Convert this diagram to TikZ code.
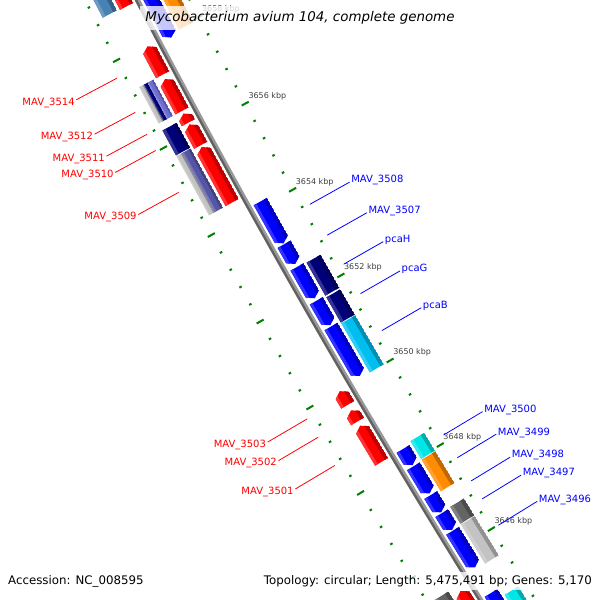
\documentclass[tikz,border=0pt]{standalone}
\usepackage{fontspec}
\setmainfont{DejaVu Sans}
\usetikzlibrary{positioning}

\definecolor{genered}{RGB}{255,0,0}
\definecolor{geneblue}{RGB}{0,0,255}
\definecolor{cognavy}{RGB}{0,0,120}
\definecolor{coglav}{RGB}{110,110,210}
\definecolor{cogslate}{RGB}{85,85,165}
\definecolor{cogcyan}{RGB}{0,230,230}
\definecolor{cogsky}{RGB}{0,191,240}
\definecolor{cogorange}{RGB}{255,140,0}
\definecolor{cogdark}{RGB}{100,100,100}
\definecolor{coglight}{RGB}{195,195,195}
\definecolor{cogsteel}{RGB}{70,130,180}
\definecolor{tickgreen}{RGB}{0,128,0}

% point on the map: position in kbp, radial offset in px (+ = outer side)
\newcommand{\gp}[2]{({gx(#1,#2)},{gy(#1,#2)})}

\newcommand{\gband}[5]{%
  \fill[#5] \gp{#1}{#3} -- \gp{#2}{#3} -- \gp{#2}{#4} -- \gp{#1}{#4} -- cycle;}

% flat face, light outer edge, dark inner edge
\newcommand{\gshade}[5]{%
  \gband{#1-0.2}{#2+0.2}{#3}{#4}{#5}
  \gband{#1-0.2}{#2+0.2}{(#4)-0.2*((#4)-(#3))}{#4}{#5!80!white}
  \gband{#1-0.2}{#2+0.2}{#3}{(#3)+0.25*((#4)-(#3))}{#5!75!black}}

\newcommand{\fwdgene}[5]{%
  \begin{scope}
    \clip \gp{#1}{#3} -- \gp{#2-0.1}{#3} -- \gp{#2}{((#3)+(#4))/2} -- \gp{#2-0.1}{#4} -- \gp{#1}{#4} -- cycle;
    \gshade{#1}{#2}{#3}{#4}{#5}
  \end{scope}}

\newcommand{\revgene}[5]{%
  \begin{scope}
    \clip \gp{#1}{((#3)+(#4))/2} -- \gp{#1+0.1}{#3} -- \gp{#2}{#3} -- \gp{#2}{#4} -- \gp{#1+0.1}{#4} -- cycle;
    \gshade{#1}{#2}{#3}{#4}{#5}
  \end{scope}}

\newcommand{\cogbox}[5]{%
  \begin{scope}
    \clip \gp{#1}{#3} -- \gp{#2}{#3} -- \gp{#2}{#4} -- \gp{#1}{#4} -- cycle;
    \gshade{#1}{#2}{#3}{#4}{#5}
  \end{scope}}

\begin{document}
\begin{tikzpicture}[x=1pt,y=-1pt,
    declare function={ss(\ka)=(\ka-3650)*49.4; cv(\ra)=1+\ra/9000;
      bb(\ka,\ra)=\ra-cv(\ra)*0.5556*(ss(\ka)/100)*(ss(\ka)/100);
      gx(\ka,\ra)=350-0.5056*cv(\ra)*ss(\ka)-0.8628*bb(\ka,\ra);
      gy(\ka,\ra)=384-0.8628*cv(\ra)*ss(\ka)+0.5056*bb(\ka,\ra);},
    lbl/.style={font=\fontsize{10}{12}\selectfont, inner sep=1.5pt},
    fwdlbl/.style={lbl, text=genered, anchor=base east},
    revlbl/.style={lbl, text=geneblue, anchor=base west},
    fwdline/.style={genered, line width=0.8pt},
    revline/.style={geneblue, line width=0.8pt},
    majtick/.style={tickgreen, line width=2pt},
    mintick/.style={tickgreen, line width=2pt},
    kbp/.style={font=\fontsize{8}{9}\selectfont, text=black!75, anchor=west, inner sep=0pt},
    fadebox/.style={fill=white, fill opacity=0.78, text opacity=1}]
  \useasboundingbox (0,0) rectangle (600,600);
  \clip (0,0) rectangle (600,600);
  \fill[white] (0,0) rectangle (600,600);

  % forward strand
  \fwdgene{3658.87}{3661}{5}{20}{genered}
  \fwdgene{3657.31}{3657.96}{5}{20}{genered}
  \fwdgene{3656.48}{3657.21}{5}{20}{genered}
  \fwdgene{3656.21}{3656.42}{5}{20}{genered}
  \fwdgene{3655.69}{3656.17}{5}{20}{genered}
  \fwdgene{3654.37}{3655.65}{5}{20}{genered}
  \fwdgene{3649.66}{3649.98}{5}{20}{genered}
  \fwdgene{3649.27}{3649.53}{5}{20}{genered}
  \fwdgene{3648.32}{3649.17}{5}{20}{genered}
  \fwdgene{3642.5}{3645.26}{5}{20}{genered}
  \cogbox{3658.89}{3661}{23}{39}{cogsteel}
  \cogbox{3656.48}{3657.31}{33.7}{39}{coglight}
  \cogbox{3656.48}{3657.31}{29.6}{33.7}{cognavy}
  \cogbox{3656.48}{3657.31}{23}{29.6}{coglav}
  \cogbox{3655.75}{3656.32}{23}{39}{cognavy}
  \cogbox{3654.37}{3655.73}{32.5}{39}{coglight}
  \cogbox{3654.37}{3655.73}{23}{32.5}{cogslate}
  \cogbox{3642.5}{3645.38}{23}{39}{cogdark}

  % reverse strand
  \revgene{3657.89}{3661}{-20}{-5}{geneblue}
  \revgene{3653.14}{3654.11}{-20}{-5}{geneblue}
  \revgene{3652.66}{3653.12}{-20}{-5}{geneblue}
  \revgene{3651.86}{3652.59}{-20}{-5}{geneblue}
  \revgene{3651.23}{3651.8}{-20}{-5}{geneblue}
  \revgene{3650.04}{3651.2}{-20}{-5}{geneblue}
  \revgene{3647.94}{3648.32}{-20}{-5}{geneblue}
  \revgene{3647.27}{3647.91}{-20}{-5}{geneblue}
  \revgene{3646.82}{3647.23}{-20}{-5}{geneblue}
  \revgene{3646.4}{3646.8}{-20}{-5}{geneblue}
  \revgene{3645.51}{3646.38}{-20}{-5}{geneblue}
  \revgene{3642.5}{3644.9}{-20}{-5}{geneblue}
  \cogbox{3657.96}{3661}{-39}{-23}{cogorange}
  \cogbox{3651.8}{3652.57}{-39}{-23}{cognavy}
  \cogbox{3651.17}{3651.76}{-39}{-23}{cognavy}
  \cogbox{3650.0}{3651.15}{-39}{-23}{cogsky}
  \cogbox{3647.96}{3648.38}{-39}{-23}{cogcyan}
  \cogbox{3647.19}{3647.94}{-39}{-23}{cogorange}
  \cogbox{3646.42}{3646.82}{-39}{-23}{cogdark}
  \cogbox{3645.47}{3646.40}{-39}{-23}{coglight}
  \cogbox{3642.5}{3644.72}{-39}{-23}{cogcyan}

  % backbone
  \draw[line width=5pt, black!40] plot[smooth, samples=25, domain=3642.5:3661] ({gx(\x,0)},{gy(\x,0)});
  \draw[line width=2.2pt, black!62] plot[smooth, samples=25, domain=3642.5:3661] ({gx(\x,1.2)},{gy(\x,1.2)});

  % ruler
  \foreach \i in {0,...,45}{
    \pgfmathsetmacro\kk{3643.6+0.4*\i}
    \pgfmathtruncatemacro\mj{mod(\i,5)==1}
    \ifnum\mj=1
      \draw[majtick] \gp{\kk}{-50.5} -- \gp{\kk}{-42.5};
      \draw[majtick] \gp{\kk}{42.5} -- \gp{\kk}{50.5};
    \else
      \draw[mintick] \gp{\kk}{-47.8} -- \gp{\kk}{-45.2};
      \draw[mintick] \gp{\kk}{45.2} -- \gp{\kk}{47.8};
    \fi
  }
  \foreach \kb in {3646,3648,...,3658}
    \node[kbp] (t\kb) at ({gx(\kb,-50)},{gy(\kb,-50)-6}) {\kb\ kbp};

  % labels, forward strand
  \foreach \nm/\kp in {3514/3657.68, 3512/3656.9, 3511/3656.4, 3510/3656.03,
                       3509/3655.07, 3503/3649.83, 3502/3649.4, 3501/3648.74}{
    \coordinate (p\nm) at ({gx(\kp,54.5)},{gy(\kp,54.5)});
    \coordinate (o\nm) at ({gx(\kp,100.5)},{gy(\kp,100.5)});
    \node[fwdlbl] (l\nm) at ([yshift=-5.3pt]o\nm) {MAV\_\nm};
    \draw[fwdline] (o\nm) -- (p\nm);
  }
  % labels, reverse strand
  \foreach \nm/\kp [count=\n] in {MAV\_3508/3653.57, MAV\_3507/3652.85, pcaH/3652.17,
                       pcaG/3651.48, pcaB/3650.61, MAV\_3500/3648.14,
                       MAV\_3499/3647.6, MAV\_3498/3647.05, MAV\_3497/3646.62,
                       MAV\_3496/3645.99}{
    \coordinate (q\n) at ({gx(\kp,-54.5)},{gy(\kp,-54.5)});
    \coordinate (e\n) at ({gx(\kp,-100)},{gy(\kp,-100)});
    \node[revlbl] (r\n) at ([yshift=-0.8pt]e\n) {\nm};
    \draw[revline] (e\n) -- (q\n);
  }

  % title and footer
  \node[fadebox, font=\fontsize{13.4}{15}\selectfont\itshape, inner xsep=5pt, inner ysep=6pt]
    (title) at (300,18) {Mycobacterium avium 104, complete genome};
  \node[fadebox, font=\fontsize{11.8}{13}\selectfont, anchor=west, inner sep=3pt]
    (acc) at (5,581) {Accession: NC\_008595};
  \node[fadebox, font=\fontsize{11.8}{13}\selectfont, anchor=east, inner sep=3pt]
    (topo) at (595,581) {Topology: circular; Length: 5,475,491 bp; Genes: 5,170};
\end{tikzpicture}
\end{document}
